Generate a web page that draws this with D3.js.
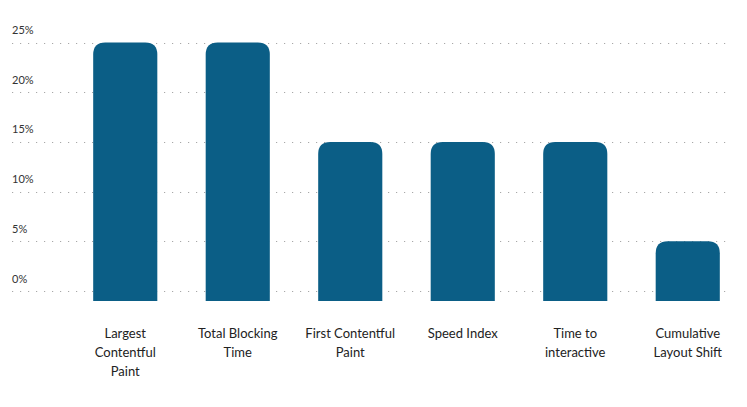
<!DOCTYPE html>
<html>
<head>
<meta charset="utf-8">
<script src="https://cdn.jsdelivr.net/npm/d3@7"></script>
<style>
  html, body { margin: 0; padding: 0; background: #fff; }
  svg { display: block; }
</style>
</head>
<body>
<svg id="chart" width="747" height="407"></svg>
<script>
const categories = [
  ["Largest", "Contentful", "Paint"],
  ["Total Blocking", "Time"],
  ["First Contentful", "Paint"],
  ["Speed Index"],
  ["Time to", "interactive"],
  ["Cumulative", "Layout Shift"]
];
const values = [25, 25, 15, 15, 15, 5];
const tickValues = [0, 5, 10, 15, 20, 25];
const tickLabels = ["0%", "5%", "10%", "15%", "20%", "25%"];

const svg = d3.select("#chart");
const fontFamily = "Lato, 'Open Sans', sans-serif";
const barColor = "#0b5e86";

const x = d3.scaleBand()
  .domain(d3.range(categories.length))
  .range([69, 744])
  .paddingInner(0.43)
  .paddingOuter(0.215);

const y = d3.scaleLinear().domain([0, 25]).range([291, 42.5]);

// gridlines
svg.append("g").selectAll("line")
  .data(tickValues)
  .join("line")
  .attr("x1", 12).attr("x2", 730)
  .attr("y1", d => Math.round(y(d)) + 0.5).attr("y2", d => Math.round(y(d)) + 0.5)
  .attr("stroke", "#a8a8a8")
  .attr("stroke-width", 1)
  .attr("stroke-dasharray", "1.2,6.8");

// tick labels
svg.append("g").selectAll("text")
  .data(tickValues)
  .join("text")
  .attr("x", 12)
  .attr("y", (d) => y(d) - 8.5)
  .attr("font-family", fontFamily)
  .attr("font-size", 11)
  .attr("fill", "#333")
  .text((d, i) => tickLabels[i]);

// bars with rounded tops, extending slightly below baseline
const r = 12;
const extra = 10;
svg.append("g").selectAll("path")
  .data(values)
  .join("path")
  .attr("fill", barColor)
  .attr("d", (d, i) => {
    const x0 = x(i), w = x.bandwidth();
    const top = y(d), bottom = y(0) + extra;
    return `M${x0},${bottom} L${x0},${top + r} Q${x0},${top} ${x0 + r},${top} L${x0 + w - r},${top} Q${x0 + w},${top} ${x0 + w},${top + r} L${x0 + w},${bottom} Z`;
  });

// category labels
const lab = svg.append("g").selectAll("text")
  .data(categories)
  .join("text")
  .attr("text-anchor", "middle")
  .attr("font-family", fontFamily)
  .attr("font-size", 13)
  .attr("fill", "#222");
lab.each(function(lines, i) {
  const t = d3.select(this);
  lines.forEach((ln, j) => {
    t.append("tspan")
      .attr("x", x(i) + x.bandwidth() / 2)
      .attr("y", 338 + j * 19)
      .text(ln);
  });
});
</script>
</body>
</html>
